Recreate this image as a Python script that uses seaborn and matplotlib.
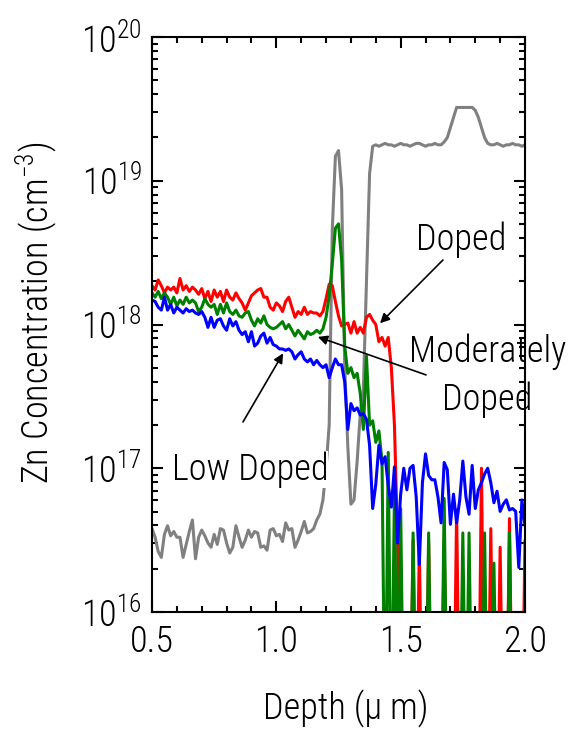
import os
import numpy as np
import pandas as pd
import matplotlib
matplotlib.use("Agg")
import matplotlib.pyplot as plt
import seaborn as sns
from matplotlib import font_manager as fm
from matplotlib.ticker import MultipleLocator, LogLocator, NullFormatter, FormatStrFormatter

# ---- data (log10 of Zn concentration, cm^-3) on a 0.0125 um depth grid ----
depth_um = np.round(0.5 + 0.0125 * np.arange(121), 4)

gray_log = [16.58, 16.52, 16.42, 16.38, 16.54, 16.60, 16.53, 16.56, 16.52, 16.52,
            16.38, 16.47, 16.56, 16.64, 16.37, 16.52, 16.57, 16.53, 16.48, 16.45,
            16.54, 16.47, 16.58, 16.57, 16.48, 16.41, 16.45, 16.60, 16.52, 16.45,
            16.50, 16.57, 16.52, 16.56, 16.55, 16.45, 16.46, 16.43, 16.57, 16.58,
            16.53, 16.54, 16.49, 16.62, 16.57, 16.58, 16.45, 16.50, 16.56, 16.63,
            16.55, 16.56, 16.58, 16.64, 16.68, 16.78,
            17.00, 17.30, 18.66, 19.17, 19.21, 18.94, 17.70, 17.15, 16.75, 16.78,
            17.05, 17.38, 17.55, 18.30, 19.05, 19.24,
            19.25, 19.24, 19.25, 19.26, 19.25, 19.25, 19.24, 19.25, 19.26, 19.25,
            19.25, 19.24, 19.25, 19.26, 19.26, 19.25, 19.24, 19.25, 19.25, 19.26,
            19.25, 19.25,
            19.27, 19.30, 19.37, 19.44, 19.51, 19.51, 19.51, 19.51, 19.51, 19.51,
            19.49, 19.44, 19.37, 19.30,
            19.26, 19.25, 19.25, 19.26, 19.25, 19.24, 19.25, 19.25, 19.26, 19.25,
            19.25, 19.24, 19.25]

red_log = [18.27, 18.24, 18.31, 18.27, 18.22, 18.26, 18.24, 18.26, 18.22, 18.32,
           18.24, 18.27, 18.23, 18.26, 18.24, 18.21, 18.25, 18.18, 18.23, 18.16,
           18.24, 18.19, 18.23, 18.16, 18.24, 18.19, 18.17, 18.22, 18.18, 18.15,
           18.10, 18.15, 18.20, 18.22, 18.24, 18.25, 18.19, 18.19, 18.12, 18.10,
           18.15, 18.13, 18.09, 18.16, 18.19, 18.12, 18.05, 18.09, 18.07, 18.12,
           18.07, 18.09, 18.08, 18.08, 18.06, 18.09, 18.18, 18.28, 18.27, 18.16,
           18.06, 17.99, 18.00, 18.01, 17.94, 18.02, 17.94, 17.98, 17.94, 18.05,
           18.07, 18.03, 18.00, 17.88, 17.91, 17.85, 17.91, 17.70, 17.30, 16.50,
           15.00, 15.00, 15.00, 15.00, 16.50, 15.00, 16.45, 15.00, 15.00, 16.48,
           15.00, 15.00, 15.00, 15.00, 16.50, 15.00, 15.00, 15.00, 16.71, 15.00,
           15.00, 15.00, 15.00, 15.00, 15.00, 15.00, 17.00, 15.00, 15.00, 16.58,
           15.00, 15.00, 16.45, 15.00, 15.00, 16.65, 15.00, 15.00, 15.00, 15.00,
           16.50]

green_log = [18.22, 18.19, 18.23, 18.18, 18.22, 18.19, 18.14, 18.19, 18.13, 18.17,
             18.14, 18.19, 18.15, 18.17, 18.15, 18.09, 18.12, 18.18, 18.14, 18.12,
             18.14, 18.07, 18.14, 18.08, 18.15, 18.09, 18.07, 18.10, 18.06, 18.05,
             18.08, 18.09, 18.03, 17.99, 18.04, 18.01, 18.06, 18.00, 17.98, 17.97,
             17.98, 18.00, 18.02, 17.97, 18.00, 17.96, 17.92, 17.96, 17.93, 17.90,
             17.95, 17.93, 17.94, 17.96, 17.94, 17.97, 18.05, 18.20, 18.42, 18.67,
             18.70, 18.45, 17.85, 17.66, 17.70, 17.63, 17.66, 17.52, 17.27, 17.78,
             17.30, 17.33, 17.18, 17.26, 17.05, 15.00, 17.11, 15.00, 16.85, 15.00,
             16.72, 15.00, 15.00, 15.00, 16.55, 15.00, 15.00, 15.00, 15.00, 16.55,
             15.00, 15.00, 15.00, 15.00, 16.79, 15.00, 15.00, 15.00, 15.00, 15.00,
             16.55, 15.00, 16.55, 15.00, 15.00, 15.00, 15.00, 16.55, 15.00, 15.00,
             16.34, 15.00, 15.00, 15.00, 15.00, 16.55, 15.00, 15.00, 15.00, 15.00,
             15.00]

blue_log = [18.17, 18.16, 18.12, 18.10, 18.19, 18.10, 18.14, 18.08, 18.12, 18.10,
            18.08, 18.11, 18.09, 18.10, 18.08, 18.07, 18.09, 18.05, 17.98, 18.05,
            17.98, 18.03, 18.04, 17.99, 17.96, 18.04, 17.99, 18.02, 17.96, 17.93,
            17.95, 17.88, 17.95, 17.85, 17.87, 17.92, 17.94, 17.87, 17.91, 17.86,
            17.85, 17.83, 17.83, 17.82, 17.83, 17.81, 17.76, 17.79, 17.81, 17.76,
            17.74, 17.76, 17.72, 17.75, 17.72, 17.70, 17.72, 17.63, 17.70, 17.76,
            17.72, 17.72, 17.60, 17.27, 17.45, 17.40, 17.42, 17.37, 17.38, 17.34,
            17.16, 16.72, 16.89, 17.16, 17.03, 17.08, 16.88, 16.73, 17.01, 16.48,
            16.82, 17.00, 16.85, 17.00, 17.02, 16.80, 16.33, 16.90, 17.10, 16.95,
            16.92, 16.92, 16.80, 16.62, 17.04, 16.99, 16.61, 16.82, 16.62, 16.78,
            17.05, 16.80, 16.68, 17.02, 16.72, 16.85, 16.90, 16.96, 17.00, 16.90,
            16.76, 16.84, 16.70, 16.75, 16.78, 16.71, 16.72, 16.70, 16.31, 16.78,
            16.60]

series_names = ["Reference", "Doped", "Moderately Doped", "Low Doped"]
series_logs = [gray_log, red_log, green_log, blue_log]
series_colors = ["#808080", "#ff0000", "#008000", "#0000ff"]

df = pd.DataFrame({
    "depth": np.tile(depth_um, len(series_names)),
    "conc": np.power(10.0, np.concatenate([np.asarray(s, float) for s in series_logs])),
    "series": np.repeat(series_names, len(depth_um)),
})


# ---- choose a narrow sans font if one is installed ----
def pick_font():
    entries = fm.fontManager.ttflist
    names = {f.name for f in entries}
    for p in ["Liberation Sans Narrow", "Arial Narrow", "Nimbus Sans Narrow",
              "Roboto Condensed", "Noto Sans Condensed", "Open Sans Condensed",
              "DejaVu Sans Condensed"]:
        if p in names:
            for f in entries:
                if f.name == p and f.style == "normal" and f.weight in (400, "normal", "regular"):
                    return f.name, f.stretch
            return p, "normal"
    ranked = []
    for f in entries:
        fn = os.path.basename(f.fname).lower()
        if f.style != "normal" or f.weight not in (400, "normal", "regular"):
            continue
        if any(k in fn for k in ("mono", "serif", "cjk", "math")):
            continue
        if "narrow" in fn:
            rank = 0
        elif "condensed" in fn and not any(k in fn for k in ("semi", "extra", "ultra")):
            rank = 1
        elif "semicondensed" in fn:
            rank = 2
        else:
            continue
        ranked.append((rank, fn, f))
    if ranked:
        ranked.sort(key=lambda t: (t[0], t[1]))
        f = ranked[0][2]
        return f.name, f.stretch
    return "Liberation Sans", "normal"


sns.set_style("ticks")
FONT, STRETCH = pick_font()
plt.rcParams["font.family"] = [FONT, "DejaVu Sans"]
plt.rcParams["font.stretch"] = STRETCH
plt.rcParams["font.weight"] = "light"
plt.rcParams["axes.labelweight"] = "light"
plt.rcParams["mathtext.fontset"] = "custom"
_pat = FONT + ":weight=light" + (f":stretch={STRETCH}" if STRETCH != "normal" else "")
for key in ("rm", "it", "bf", "sf"):
    plt.rcParams["mathtext." + key] = _pat
for key in ("text.color", "axes.labelcolor", "xtick.color", "ytick.color", "axes.edgecolor"):
    plt.rcParams[key] = "black"
plt.rcParams["axes.linewidth"] = 1.5

fig = plt.figure(figsize=(5.7, 7.3), dpi=100)

# size the font so that "Moderately" is about as wide as in the reference (157 px)
_probe = fig.text(0, 0, "Moderately", fontsize=28)
_w = _probe.get_window_extent(fig.canvas.get_renderer()).width
_probe.remove()
FS = float(np.clip(28 * 157.0 / max(_w, 1.0), 22, 30))

ax = fig.add_axes([152 / 570, 118 / 730, 373 / 570, 575 / 730])

sns.lineplot(data=df, x="depth", y="conc", hue="series", hue_order=series_names,
             palette=series_colors, estimator=None, linewidth=2.2, legend=False,
             ax=ax)

ax.set_yscale("log")
ax.set_xlim(0.5, 2.0)
ax.set_ylim(1e16, 1e20)

ax.xaxis.set_major_locator(MultipleLocator(0.5))
ax.xaxis.set_minor_locator(MultipleLocator(0.1))
ax.xaxis.set_major_formatter(FormatStrFormatter("%.1f"))
ax.yaxis.set_major_locator(LogLocator(base=10, numticks=10))
ax.yaxis.set_minor_locator(LogLocator(base=10, subs=np.arange(2, 10), numticks=20))
ax.yaxis.set_minor_formatter(NullFormatter())

ax.tick_params(which="both", direction="in", top=True, right=True, width=1.5,
               labelsize=FS, color="black", labelcolor="black")
ax.tick_params(which="major", length=8)
ax.tick_params(axis="x", which="major", pad=9)
ax.tick_params(axis="y", which="major", pad=7)
ax.tick_params(which="minor", length=4)

for sp in ax.spines.values():
    sp.set_linewidth(1.5)
    sp.set_color("black")

ax.set_xlabel("Depth (µ m)", fontsize=FS, fontweight="light")
ax.set_ylabel("Zn Concentration (cm$^{-3}$)", fontsize=FS, fontweight="light")
ax.xaxis.set_label_coords(0.52, -0.135)
ax.yaxis.set_label_coords(-0.25, 0.52)

# ---- annotations ----
arrow = dict(arrowstyle="-|>", color="black", lw=1.2, mutation_scale=14,
             shrinkA=0, shrinkB=0)
ax.annotate("", xy=(1.417, 1.02e18), xytext=(1.670, 2.81e18), arrowprops=arrow)
ax.annotate("", xy=(1.167, 8.2e17), xytext=(1.602, 4.46e17), arrowprops=arrow)
ax.annotate("", xy=(1.027, 6.3e17), xytext=(0.866, 2.10e17), arrowprops=arrow)

ax.text(1.742, 3.30e18, "Doped", fontsize=FS, ha="center", va="baseline")
ax.text(1.851, 5.5e17, "Moderately", fontsize=FS, ha="center", va="baseline",
        clip_on=False)
ax.text(1.847, 2.54e17, "Doped", fontsize=FS, ha="center", va="baseline")
ax.text(0.894, 8.3e16, "Low Doped", fontsize=FS, ha="center", va="baseline",
        bbox=dict(facecolor="white", edgecolor="none", pad=0))

fig.savefig("out.png", dpi=100)
